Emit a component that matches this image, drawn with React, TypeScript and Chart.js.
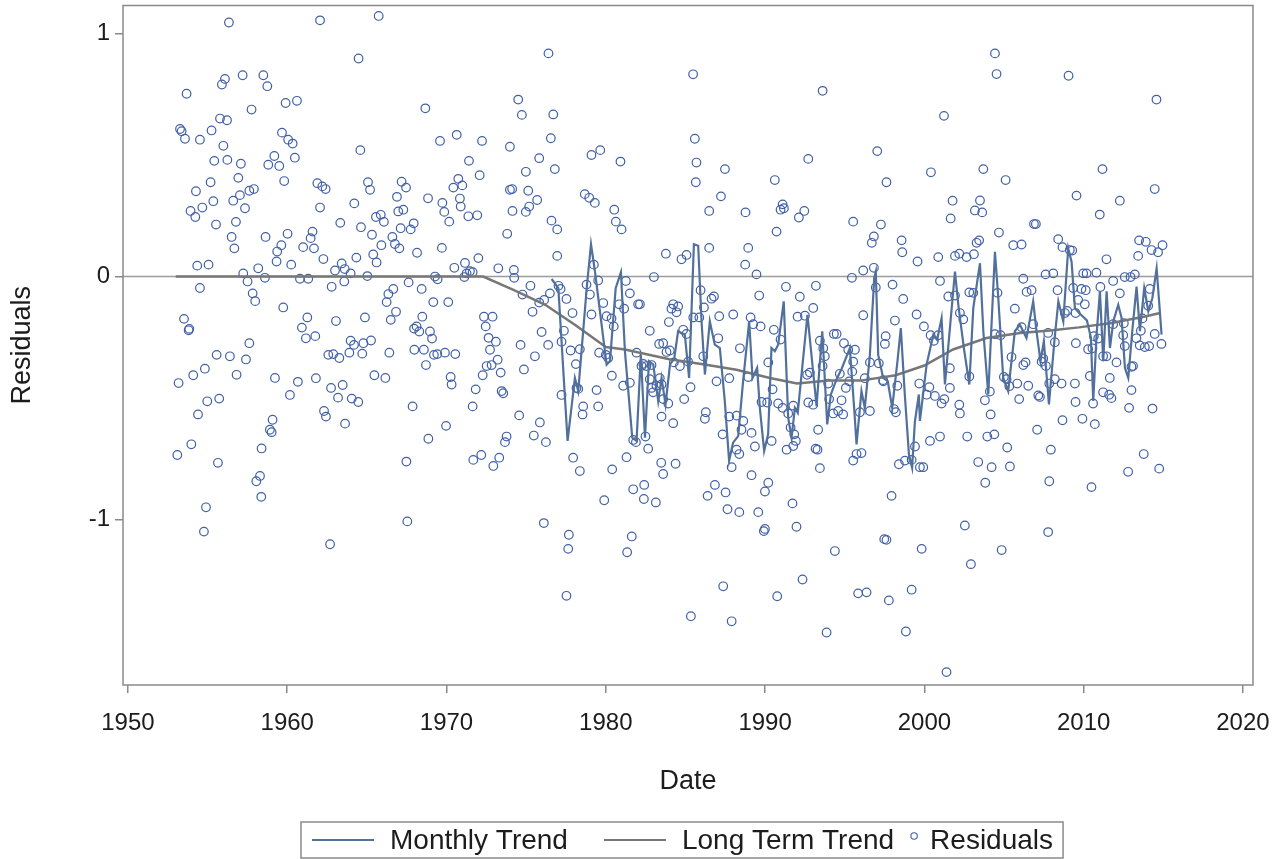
import React, { useEffect, useRef } from 'react';
import { Chart, registerables } from 'chart.js';

Chart.register(...registerables);

const xTicks = [1950, 1960, 1970, 1980, 1990, 2000, 2010, 2020];
const yTicks = [-1, 0, 1];
const legendLabels = ['Monthly Trend', 'Long Term Trend', 'Residuals'];
const xTitle = 'Date';
const yTitle = 'Residuals';

// [year, residual]
const residuals1950s: [number, number][] = [
  [1956.34, 1.045], [1956.09, 0.813], [1955.9, 0.79], [1957.2, 0.828], [1958.5, 0.828], [1958.75, 0.783],
  [1953.68, 0.752], [1957.76, 0.687], [1959.9, 0.714], [1960.61, 0.723], [1955.78, 0.65], [1956.22, 0.643],
  [1953.27, 0.607], [1953.37, 0.598], [1953.58, 0.567], [1954.52, 0.563], [1955.25, 0.601], [1955.99, 0.538],
  [1955.42, 0.476], [1956.24, 0.48], [1957.09, 0.464], [1956.93, 0.406], [1958.81, 0.46], [1959.5, 0.455],
  [1959.19, 0.496], [1959.67, 0.592], [1960.06, 0.563], [1960.34, 0.547], [1960.48, 0.489], [1959.81, 0.393],
  [1954.27, 0.351], [1955.19, 0.388], [1955.36, 0.31], [1954.67, 0.284], [1953.93, 0.27], [1954.23, 0.245],
  [1955.53, 0.214], [1956.61, 0.312], [1957.03, 0.335], [1957.35, 0.281], [1957.62, 0.353], [1957.91, 0.36],
  [1956.78, 0.225], [1956.51, 0.163], [1956.68, 0.116], [1958.64, 0.163], [1960.02, 0.176], [1959.63, 0.129],
  [1959.37, 0.103], [1959.33, 0.062], [1954.35, 0.045], [1955.06, 0.049], [1961.0, 0.121], [1961.59, 0.185],
  [1961.47, 0.158], [1961.68, 0.116], [1960.25, 0.049], [1960.8, -0.009], [1961.32, -0.009], [1957.24, 0.013],
  [1957.51, -0.02], [1958.18, 0.034], [1958.6, -0.005], [1954.52, -0.047], [1957.83, -0.069], [1957.99, -0.101],
  [1959.75, -0.127], [1953.52, -0.174], [1953.81, -0.221], [1953.85, -0.215], [1961.26, -0.168], [1960.92, -0.21],
  [1961.17, -0.254], [1961.76, -0.245], [1957.62, -0.274], [1955.57, -0.322], [1956.4, -0.328], [1957.41, -0.341],
  [1954.83, -0.379], [1954.1, -0.406], [1953.18, -0.438], [1956.82, -0.404], [1959.23, -0.417], [1960.67, -0.433],
  [1961.8, -0.418], [1960.17, -0.487], [1954.98, -0.513], [1955.73, -0.502], [1954.4, -0.567], [1959.08, -0.589],
  [1958.91, -0.63], [1959.02, -0.64], [1953.1, -0.734], [1953.98, -0.69], [1958.39, -0.707], [1955.65, -0.766],
  [1958.29, -0.82], [1958.06, -0.842], [1958.37, -0.906], [1954.9, -0.949], [1954.77, -1.049],
];

const residuals1960s: [number, number][] = [
  [1962.06, 1.054], [1965.74, 1.072], [1964.48, 0.897], [1968.67, 0.692], [1964.59, 0.52], [1969.59, 0.558],
  [1970.64, 0.583], [1972.23, 0.558], [1971.41, 0.476], [1972.08, 0.417], [1961.89, 0.384], [1962.2, 0.371],
  [1962.41, 0.36], [1965.07, 0.388], [1965.2, 0.357], [1967.18, 0.39], [1967.46, 0.366], [1970.74, 0.402],
  [1970.43, 0.366], [1970.99, 0.375], [1970.84, 0.321], [1970.89, 0.288], [1962.06, 0.284], [1964.21, 0.301],
  [1966.89, 0.328], [1968.84, 0.322], [1969.74, 0.303], [1969.86, 0.266], [1971.37, 0.248], [1971.93, 0.252],
  [1963.33, 0.221], [1964.63, 0.203], [1965.57, 0.245], [1965.87, 0.254], [1966.07, 0.225], [1965.32, 0.172],
  [1966.97, 0.268], [1967.29, 0.275], [1967.12, 0.199], [1967.75, 0.194], [1967.94, 0.219], [1966.6, 0.163],
  [1966.76, 0.134], [1967.04, 0.116], [1965.91, 0.129], [1970.17, 0.226], [1969.71, 0.118], [1968.15, 0.098],
  [1965.4, 0.091], [1965.61, 0.058], [1964.34, 0.078], [1962.27, 0.072], [1963.42, 0.054], [1963.61, 0.031],
  [1963.0, 0.025], [1963.98, 0.013], [1965.03, 0.002], [1962.79, -0.042], [1963.58, -0.02], [1967.62, -0.024],
  [1968.44, -0.051], [1969.28, 0.0], [1969.44, -0.011], [1970.49, 0.036], [1971.16, 0.056], [1971.47, 0.022],
  [1971.26, 0.013], [1971.64, 0.018], [1971.12, -0.002], [1972.0, 0.076], [1973.25, 0.034], [1966.35, -0.072],
  [1966.66, -0.051], [1966.24, -0.105], [1966.83, -0.145], [1966.5, -0.178], [1969.17, -0.105], [1970.11, -0.105],
  [1964.88, -0.168], [1963.06, -0.183], [1968.48, -0.165], [1968.12, -0.205], [1968.29, -0.226], [1967.96, -0.214],
  [1968.96, -0.226], [1969.09, -0.255], [1963.98, -0.264], [1964.19, -0.281], [1963.9, -0.313], [1964.78, -0.274],
  [1965.26, -0.263], [1962.58, -0.322], [1962.89, -0.319], [1963.27, -0.335], [1964.71, -0.317], [1966.41, -0.313],
  [1967.98, -0.301], [1968.58, -0.301], [1969.21, -0.322], [1969.42, -0.319], [1969.9, -0.313], [1970.55, -0.319],
  [1968.71, -0.364], [1972.35, -0.165], [1972.89, -0.165], [1972.46, -0.205], [1972.64, -0.252], [1973.1, -0.268],
  [1972.73, -0.301], [1972.52, -0.368], [1972.83, -0.364], [1973.21, -0.342], [1973.4, -0.395], [1972.27, -0.406],
  [1965.47, -0.406], [1966.16, -0.417], [1962.75, -0.458], [1963.48, -0.446], [1963.19, -0.498], [1964.05, -0.502],
  [1964.46, -0.516], [1970.26, -0.413], [1970.32, -0.444], [1971.83, -0.464], [1973.46, -0.471], [1973.56, -0.48],
  [1967.87, -0.534], [1971.64, -0.534], [1962.31, -0.553], [1962.43, -0.576], [1963.63, -0.605], [1969.97, -0.614],
  [1968.86, -0.667], [1973.77, -0.658], [1973.67, -0.681], [1971.68, -0.754], [1972.18, -0.734], [1972.94, -0.779],
  [1973.31, -0.745], [1967.48, -0.761], [1967.54, -1.007], [1962.69, -1.101],
];

const residuals1970s: [number, number][] = [
  [1976.4, 0.918], [1985.48, 0.832], [1974.5, 0.728], [1974.73, 0.665], [1976.7, 0.667], [1976.55, 0.569],
  [1973.98, 0.534], [1985.59, 0.567], [1985.69, 0.469], [1985.65, 0.388], [1975.82, 0.487], [1976.8, 0.442],
  [1974.98, 0.431], [1979.1, 0.5], [1979.65, 0.52], [1980.92, 0.473], [1973.98, 0.357], [1974.12, 0.36],
  [1975.13, 0.353], [1975.69, 0.315], [1975.19, 0.288], [1974.98, 0.266], [1974.14, 0.27], [1973.81, 0.176],
  [1976.59, 0.23], [1976.95, 0.194], [1978.68, 0.339], [1978.96, 0.324], [1979.31, 0.303], [1980.53, 0.275],
  [1980.63, 0.226], [1980.99, 0.194], [1976.95, 0.085], [1983.77, 0.094], [1984.75, 0.071], [1985.07, 0.089],
  [1974.23, 0.027], [1974.25, -0.005], [1975.27, -0.038], [1974.77, -0.074], [1975.82, -0.107], [1976.13, -0.096],
  [1976.49, -0.069], [1977.03, -0.038], [1977.16, -0.051], [1975.4, -0.145], [1975.97, -0.228], [1976.38, -0.281],
  [1975.55, -0.328], [1974.65, -0.281], [1974.86, -0.382], [1977.53, -0.092], [1977.91, -0.15], [1977.37, -0.223],
  [1977.22, -0.268], [1977.79, -0.304], [1978.12, -0.36], [1978.37, -0.299], [1978.79, -0.033], [1979.0, -0.074],
  [1979.25, 0.049], [1979.52, -0.016], [1979.1, -0.156], [1979.84, -0.109], [1980.05, -0.163], [1980.36, -0.172],
  [1980.5, -0.205], [1980.84, -0.114], [1981.15, -0.132], [1981.51, -0.069], [1981.26, -0.018], [1982.03, -0.114],
  [1982.14, -0.114], [1979.58, -0.313], [1980.0, -0.322], [1980.15, -0.335], [1978.16, -0.458], [1978.27, -0.462],
  [1979.42, -0.467], [1979.52, -0.534], [1978.58, -0.534], [1978.54, -0.567], [1977.22, -0.487], [1980.38, -0.408],
  [1981.09, -0.449], [1981.51, -0.437], [1981.93, -0.313], [1982.24, -0.368], [1982.35, -0.359], [1982.55, -0.368],
  [1982.87, -0.364], [1982.76, -0.223], [1983.02, -0.002], [1983.35, -0.277], [1983.6, -0.274], [1983.81, -0.31],
  [1983.96, -0.187], [1984.12, -0.132], [1984.23, -0.114], [1984.54, -0.123], [1984.44, -0.147], [1984.02, -0.304],
  [1984.27, -0.353], [1984.65, -0.368], [1984.86, -0.219], [1985.07, -0.236], [1985.17, -0.35], [1985.32, -0.455],
  [1984.92, -0.504], [1983.39, -0.418], [1983.18, -0.449], [1983.5, -0.444], [1983.6, -0.504], [1983.92, -0.522],
  [1984.23, -0.603], [1982.76, -0.422], [1982.87, -0.458], [1982.97, -0.476], [1983.5, -0.576], [1974.56, -0.571],
  [1975.48, -0.654], [1975.86, -0.6], [1976.24, -0.681], [1977.95, -0.745], [1978.37, -0.8], [1980.4, -0.793],
  [1981.3, -0.743], [1981.72, -0.672], [1981.89, -0.681], [1982.49, -0.658], [1982.66, -0.708], [1983.48, -0.766],
  [1983.6, -0.812], [1984.38, -0.77], [1979.9, -0.92], [1981.72, -0.875], [1982.41, -0.857], [1982.39, -0.915],
  [1983.14, -0.929], [1976.11, -1.014], [1977.68, -1.062], [1977.64, -1.12], [1981.63, -1.069], [1981.34, -1.134],
  [1977.53, -1.313], [1985.34, -1.397],
];

const residuals1980s: [number, number][] = [
  [1993.61, 0.764], [1992.71, 0.484], [1997.04, 0.516], [1987.48, 0.442], [1987.23, 0.33], [1986.49, 0.27],
  [1990.61, 0.397], [1988.77, 0.264], [1991.1, 0.297], [1991.18, 0.281], [1990.97, 0.275], [1992.12, 0.243],
  [1992.46, 0.27], [1990.72, 0.185], [1997.62, 0.388], [1995.53, 0.226], [1997.27, 0.214], [1996.83, 0.165],
  [1996.7, 0.139], [1986.49, 0.118], [1988.94, 0.118], [1988.75, 0.049], [1989.46, 0.009], [1996.16, 0.025],
  [1995.45, -0.005], [1996.83, 0.036], [1996.95, -0.045], [1991.31, -0.042], [1993.19, -0.038], [1992.18, -0.083],
  [1985.95, -0.056], [1986.64, -0.091], [1986.79, -0.082], [1986.16, -0.127], [1989.63, -0.078], [1993.02, -0.129],
  [1985.49, -0.168], [1985.87, -0.168], [1987.12, -0.163], [1988.0, -0.156], [1989.09, -0.168], [1989.25, -0.196],
  [1989.72, -0.205], [1990.55, -0.219], [1990.97, -0.259], [1992.5, -0.161], [1992.04, -0.165], [1993.44, -0.264],
  [1994.32, -0.236], [1994.49, -0.236], [1993.65, -0.295], [1994.95, -0.274], [1995.22, -0.301], [1995.64, -0.301],
  [1996.16, -0.159], [1997.52, -0.277], [1986.12, -0.328], [1987.06, -0.254], [1986.95, -0.431], [1987.75, -0.418],
  [1988.42, -0.295], [1988.94, -0.413], [1990.2, -0.353], [1990.47, -0.464], [1992.64, -0.404], [1992.81, -0.395],
  [1993.02, -0.527], [1992.71, -0.518], [1993.61, -0.368], [1993.75, -0.328], [1993.96, -0.44], [1994.02, -0.504],
  [1994.28, -0.563], [1994.59, -0.553], [1994.9, -0.567], [1994.8, -0.509], [1994.69, -0.4], [1995.28, -0.431],
  [1995.07, -0.458], [1995.53, -0.35], [1995.47, -0.391], [1996.26, -0.418], [1997.41, -0.426], [1996.58, -0.353],
  [1997.14, -0.357], [1995.95, -0.558], [1996.58, -0.553], [1989.78, -0.516], [1990.13, -0.518], [1990.82, -0.522],
  [1991.1, -0.54], [1991.45, -0.563], [1991.77, -0.531], [1991.6, -0.621], [1991.83, -0.649], [1991.93, -0.676],
  [1993.33, -0.63], [1986.28, -0.558], [1986.22, -0.585], [1987.75, -0.576], [1988.21, -0.572], [1988.63, -0.594],
  [1988.52, -0.63], [1989.15, -0.643], [1987.33, -0.649], [1989.36, -0.699], [1990.41, -0.676], [1987.9, -0.784],
  [1988.21, -0.712], [1988.38, -0.73], [1991.35, -0.712], [1991.77, -0.697], [1993.17, -0.708], [1993.29, -0.712],
  [1993.44, -0.788], [1989.15, -0.817], [1990.2, -0.848], [1989.99, -0.884], [1986.85, -0.857], [1986.39, -0.902],
  [1987.52, -0.888], [1987.64, -0.957], [1988.38, -0.969], [1989.57, -0.969], [1989.99, -1.038], [1989.92, -1.047],
  [1991.72, -0.933], [1991.97, -1.029], [1995.53, -0.757], [1995.74, -0.73], [1996.05, -0.726], [1997.48, -1.08],
  [1997.62, -1.083], [1994.38, -1.129], [1987.37, -1.274], [1990.76, -1.315], [1992.35, -1.246], [1995.84, -1.303],
  [1996.37, -1.299], [1987.9, -1.418], [1993.86, -1.464], [1997.77, -1.332],
];

const residuals1990s: [number, number][] = [
  [2004.43, 0.918], [2004.53, 0.833], [2009.05, 0.826], [2001.23, 0.661], [2000.41, 0.429], [2003.7, 0.442],
  [2005.1, 0.397], [2009.55, 0.333], [2001.77, 0.312], [2001.65, 0.239], [2003.49, 0.313], [2003.17, 0.272],
  [2003.63, 0.264], [2004.68, 0.181], [2006.88, 0.216], [2007.0, 0.216], [1998.57, 0.149], [1998.61, 0.1],
  [1999.57, 0.062], [2000.87, 0.08], [2001.92, 0.085], [2002.19, 0.094], [2002.65, 0.08], [2003.11, 0.092],
  [2003.28, 0.139], [2003.44, 0.149], [2005.58, 0.129], [2006.1, 0.132], [2008.4, 0.154], [2008.67, 0.121],
  [2009.13, 0.109], [2009.28, 0.107], [1998.0, -0.033], [1998.67, -0.092], [2000.98, -0.018], [2001.5, -0.082],
  [2001.92, -0.078], [2002.82, -0.065], [2003.07, -0.067], [2004.59, -0.067], [2006.21, -0.009], [2006.42, -0.063],
  [2006.73, -0.056], [2007.61, 0.009], [2008.09, 0.013], [2008.36, -0.056], [1999.51, -0.156], [1999.97, -0.205],
  [1998.15, -0.181], [1997.57, -0.245], [2002.23, -0.15], [2002.44, -0.176], [2000.39, -0.241], [2000.6, -0.264],
  [2000.87, -0.241], [2005.68, -0.132], [2006.1, -0.208], [2006.83, -0.196], [2008.82, -0.15], [2008.97, -0.141],
  [2008.19, -0.27], [2007.77, -0.232], [2009.49, -0.15], [1997.42, -0.431], [1998.3, -0.449], [1998.09, -0.545],
  [1998.21, -0.558], [1999.68, -0.44], [2000.14, -0.486], [2000.31, -0.455], [2000.66, -0.491], [2001.08, -0.522],
  [2001.25, -0.504], [2001.6, -0.377], [2001.6, -0.458], [2002.19, -0.527], [2002.23, -0.563], [2002.82, -0.411],
  [2003.8, -0.509], [2004.11, -0.473], [2004.16, -0.567], [2004.43, -0.237], [2004.78, -0.241], [2004.99, -0.413],
  [2005.16, -0.422], [2005.33, -0.451], [2005.47, -0.331], [2005.83, -0.44], [2005.95, -0.504], [2006.21, -0.364],
  [2006.35, -0.353], [2006.52, -0.449], [2007.15, -0.489], [2007.25, -0.495], [2007.36, -0.35], [2007.46, -0.337],
  [2007.63, -0.368], [2007.84, -0.44], [2008.19, -0.422], [2008.61, -0.44], [2009.45, -0.44], [2009.49, -0.516],
  [2008.67, -0.591], [1998.4, -0.772], [1998.78, -0.757], [1999.2, -0.754], [1999.41, -0.699], [1999.72, -0.784],
  [1999.93, -0.784], [2000.35, -0.676], [2000.98, -0.658], [2002.69, -0.658], [2003.95, -0.658], [2004.39, -0.649],
  [2003.38, -0.763], [2004.22, -0.784], [2003.82, -0.848], [2005.2, -0.703], [2005.37, -0.781], [2007.94, -0.712],
  [2007.84, -0.842], [2007.08, -0.63], [1997.94, -0.902], [1999.83, -1.12], [2002.54, -1.024], [2002.92, -1.183],
  [2004.85, -1.125], [2007.77, -1.051], [1999.2, -1.288], [1998.84, -1.46], [2001.39, -1.627],
];

const residuals2010s: [number, number][] = [
  [2014.57, 0.728], [2011.18, 0.442], [2012.27, 0.312], [2014.46, 0.36], [2011.01, 0.255], [2013.48, 0.149],
  [2013.9, 0.143], [2014.26, 0.109], [2014.67, 0.1], [2014.95, 0.129], [2013.42, 0.085], [2011.43, 0.071],
  [2009.97, 0.013], [2010.18, 0.013], [2010.8, 0.016], [2011.85, -0.018], [2012.58, -0.002], [2013.21, 0.009],
  [2012.94, -0.002], [2009.34, -0.047], [2009.86, -0.051], [2010.13, -0.056], [2011.05, -0.043], [2014.15, -0.051],
  [2009.65, -0.096], [2010.07, -0.114], [2012.27, -0.069], [2014.05, -0.12], [2011.85, -0.196], [2012.52, -0.192],
  [2013.69, -0.172], [2013.59, -0.223], [2010.64, -0.245], [2010.91, -0.255], [2012.48, -0.241], [2012.58, -0.286],
  [2010.28, -0.299], [2010.55, -0.295], [2013.31, -0.254], [2013.52, -0.283], [2013.84, -0.29], [2014.11, -0.286],
  [2014.46, -0.236], [2014.88, -0.277], [2009.51, -0.274], [2011.22, -0.328], [2011.43, -0.328], [2012.06, -0.353],
  [2013.0, -0.371], [2013.1, -0.368], [2010.39, -0.409], [2011.64, -0.417], [2010.59, -0.522], [2011.22, -0.476],
  [2011.6, -0.486], [2011.74, -0.5], [2013.0, -0.467], [2012.85, -0.54], [2014.32, -0.543], [2009.92, -0.585],
  [2010.7, -0.607], [2013.77, -0.73], [2012.79, -0.803], [2014.74, -0.79], [2010.49, -0.866],
];

const monthlyTrend: [number, number][] = [
  [1976.6, -0.01], [1977.02, -0.048], [1977.6, -0.676], [1978.06, -0.417], [1978.27, -0.471], [1978.8, -0.048],
  [1979.07, 0.133], [1979.32, 0.02], [1980.05, -0.362], [1980.26, -0.348], [1980.62, -0.048], [1980.95, 0.018],
  [1981.2, -0.307], [1981.66, -0.663], [1981.93, -0.676], [1982.2, -0.321], [1982.46, -0.663], [1982.71, -0.348],
  [1982.98, -0.362], [1983.29, -0.512], [1983.5, -0.417], [1983.75, -0.526], [1984.03, -0.362], [1984.3, -0.335],
  [1984.54, -0.225], [1984.96, -0.239], [1985.23, -0.417], [1985.53, 0.133], [1985.8, 0.127], [1986.01, -0.184],
  [1986.22, -0.403], [1986.53, -0.184], [1986.84, -0.28], [1987.16, -0.294], [1987.47, -0.512], [1987.74, -0.758],
  [1987.99, -0.683], [1988.31, -0.656], [1988.62, -0.43], [1989.0, -0.184], [1989.21, -0.417], [1989.5, -0.376],
  [1989.67, -0.54], [1989.94, -0.717], [1990.19, -0.649], [1990.4, -0.294], [1990.61, -0.307], [1990.82, -0.28],
  [1991.17, -0.102], [1991.45, -0.58], [1991.66, -0.663], [1991.87, -0.54], [1992.05, -0.56], [1992.66, -0.157],
  [1993.23, -0.533], [1993.59, -0.225], [1993.9, -0.608], [1994.13, -0.485], [1994.5, -0.42], [1994.8, -0.38],
  [1995.32, -0.294], [1995.59, -0.54], [1995.74, -0.69], [1996.05, -0.471], [1996.26, -0.54], [1996.58, -0.321],
  [1996.85, -0.007], [1996.95, 0.02], [1997.1, -0.321], [1997.41, -0.417], [1997.7, -0.43], [1997.98, -0.54],
  [1998.31, -0.348], [1998.52, -0.212], [1998.77, -0.485], [1999.03, -0.731], [1999.23, -0.786], [1999.4, -0.6],
  [1999.65, -0.485], [1999.72, -0.594], [2000.14, -0.362], [2000.56, -0.239], [2000.8, -0.26], [2001.08, -0.171],
  [2001.29, -0.444], [2001.64, -0.184], [2001.92, 0.02], [2002.13, -0.116], [2002.48, -0.294], [2002.82, -0.444],
  [2003.07, -0.13], [2003.49, 0.055], [2003.7, -0.225], [2004.01, -0.485], [2004.43, 0.102], [2004.64, -0.089],
  [2004.95, -0.417], [2005.26, -0.471], [2005.68, -0.225], [2006.0, -0.198], [2006.41, -0.253], [2006.83, -0.102],
  [2007.04, -0.225], [2007.29, -0.348], [2007.5, -0.266], [2007.82, -0.526], [2008.16, -0.266], [2008.41, -0.102],
  [2008.72, -0.184], [2009.03, 0.116], [2009.24, 0.061], [2009.45, -0.13], [2009.8, -0.155], [2010.2, -0.18],
  [2010.45, -0.25], [2010.6, -0.512], [2010.81, -0.239], [2011.02, -0.061], [2011.23, -0.348], [2011.44, -0.061],
  [2011.65, -0.294], [2011.86, -0.184], [2012.17, -0.116], [2012.38, -0.17], [2012.59, -0.376], [2012.8, -0.417],
  [2013.05, -0.225], [2013.32, -0.041], [2013.53, -0.225], [2013.8, -0.048], [2014.06, -0.143], [2014.31, -0.089],
  [2014.58, 0.034], [2014.89, -0.239],
];

const longTermTrend: [number, number][] = [
  [1953.0, 0], [1972.3, 0], [1974.2, -0.055], [1976.2, -0.116], [1978.1, -0.2], [1980.0, -0.29], [1981.2, -0.3],
  [1984.0, -0.34], [1986.0, -0.36], [1988.2, -0.383], [1990.3, -0.417], [1992.0, -0.44], [1994.0, -0.428],
  [1996.0, -0.428], [1998.2, -0.406], [2000.0, -0.366], [2001.8, -0.3], [2003.9, -0.253], [2006.0, -0.232],
  [2007.9, -0.222], [2009.7, -0.209], [2011.75, -0.191], [2013.85, -0.164], [2014.8, -0.15],
];

const FONT = "'Liberation Sans', Arial, Helvetica, sans-serif";
const TEXT = '#1c1c1c';
const FRAME = '#8a8a8a';
const ZERO = '#9c9c9c';
const MONTHLY = '#52709c';
const LONG = '#777777';
const POINT = '#4060a8';

const toXY = (arr: [number, number][]) => arr.map(([x, y]) => ({ x, y }));

export default function App() {
  const ref = useRef<HTMLCanvasElement>(null);

  useEffect(() => {
    const canvas = ref.current;
    if (!canvas) return;

    const decor = {
      id: 'decor',
      beforeDatasetsDraw(chart: any) {
        const { ctx, chartArea: a, scales } = chart;
        const y0 = scales.y.getPixelForValue(0);
        ctx.save();
        ctx.strokeStyle = ZERO;
        ctx.lineWidth = 1.5;
        ctx.beginPath();
        ctx.moveTo(a.left, y0);
        ctx.lineTo(a.right, y0);
        ctx.stroke();
        ctx.restore();
      },
      afterDraw(chart: any) {
        const { ctx, chartArea: a } = chart;
        ctx.save();
        ctx.strokeStyle = FRAME;
        ctx.lineWidth = 1.5;
        ctx.strokeRect(a.left, a.top, a.right - a.left, a.bottom - a.top);

        // legend
        ctx.font = `28px ${FONT}`;
        const w = legendLabels.map((t) => ctx.measureText(t).width);
        const pad = 11, lineLen = 62, gapT = 16, gapItem = 36, gapItem2 = 16, circ = 8, gapC = 12, padR = 10;
        const total = pad + lineLen + gapT + w[0] + gapItem + lineLen + gapT + w[1] + gapItem2 + circ + gapC + w[2] + padR;
        const cx = (a.left + a.right) / 2 - 5.5;
        const bx = Math.round(cx - total / 2);
        const by = 822, bh = 36;
        const my = by + bh / 2;
        ctx.strokeStyle = FRAME;
        ctx.lineWidth = 1.5;
        ctx.strokeRect(bx, by, total, bh);
        ctx.fillStyle = TEXT;
        ctx.textBaseline = 'middle';
        ctx.textAlign = 'left';
        let x = bx + pad;
        ctx.strokeStyle = MONTHLY;
        ctx.lineWidth = 2;
        ctx.beginPath(); ctx.moveTo(x, my); ctx.lineTo(x + lineLen, my); ctx.stroke();
        x += lineLen + gapT;
        ctx.fillText(legendLabels[0], x, my + 1);
        x += w[0] + gapItem;
        ctx.strokeStyle = LONG;
        ctx.beginPath(); ctx.moveTo(x, my); ctx.lineTo(x + lineLen, my); ctx.stroke();
        x += lineLen + gapT;
        ctx.fillText(legendLabels[1], x, my + 1);
        x += w[1] + gapItem2;
        ctx.strokeStyle = POINT;
        ctx.lineWidth = 1.1;
        ctx.beginPath(); ctx.arc(x + circ / 2, my - 4, 3.2, 0, Math.PI * 2); ctx.stroke();
        x += circ + gapC;
        ctx.fillText(legendLabels[2], x, my + 1);
        ctx.restore();
      },
    };

    const residuals = [
      ...residuals1950s, ...residuals1960s, ...residuals1970s,
      ...residuals1980s, ...residuals1990s, ...residuals2010s,
    ];

    const chart = new Chart(canvas, {
      type: 'scatter',
      data: {
        datasets: [
          {
            label: legendLabels[0],
            data: toXY(monthlyTrend),
            showLine: true,
            borderColor: MONTHLY,
            borderWidth: 2.2,
            pointRadius: 0,
            tension: 0,
            order: 1,
          },
          {
            label: legendLabels[1],
            data: toXY(longTermTrend),
            showLine: true,
            borderColor: LONG,
            borderWidth: 2.5,
            pointRadius: 0,
            tension: 0,
            order: 2,
          },
          {
            label: legendLabels[2],
            data: toXY(residuals),
            showLine: false,
            pointStyle: 'circle',
            pointRadius: 4.3,
            pointBorderWidth: 1.2,
            borderColor: POINT,
            backgroundColor: 'rgba(0,0,0,0)',
            order: 3,
          },
        ],
      },
      options: {
        responsive: false,
        animation: false,
        devicePixelRatio: 1,
        layout: { padding: { left: 0, right: 22, top: 3, bottom: 44 } },
        plugins: { legend: { display: false }, tooltip: { enabled: false } },
        scales: {
          x: {
            type: 'linear',
            min: 1949.69,
            max: 2020.63,
            afterBuildTicks: (s: any) => { s.ticks = xTicks.map((v) => ({ value: v })); },
            afterFit: (s: any) => { s.height = 130; s.paddingLeft = 0; s.paddingRight = 0; },
            ticks: {
              callback: (v: any) => String(v),
              font: { family: FONT, size: 24 },
              color: TEXT,
              padding: 16,
              maxRotation: 0,
              autoSkip: false,
            },
            grid: { drawOnChartArea: false, drawTicks: true, tickLength: 8, color: FRAME, lineWidth: 1.5 },
            border: { display: false },
            title: { display: true, text: xTitle, font: { family: FONT, size: 27 }, color: TEXT, padding: { top: 0, bottom: 17 } },
          },
          y: {
            type: 'linear',
            min: -1.68,
            max: 1.115,
            afterBuildTicks: (s: any) => { s.ticks = yTicks.map((v) => ({ value: v })); },
            afterFit: (s: any) => { s.width = 123; s.paddingTop = 0; s.paddingBottom = 0; },
            ticks: {
              callback: (v: any) => String(v),
              font: { family: FONT, size: 24 },
              color: TEXT,
              padding: 5,
              autoSkip: false,
            },
            grid: { drawOnChartArea: false, drawTicks: true, tickLength: 8, color: FRAME, lineWidth: 1.5 },
            border: { display: false },
            title: { display: true, text: yTitle, font: { family: FONT, size: 27 }, color: TEXT, padding: { top: 6, bottom: 0 } },
          },
        },
      },
      plugins: [decor],
    } as any);

    return () => chart.destroy();
  }, []);

  return (
    <div style={{ position: 'absolute', left: 0, top: 0, width: 1275, height: 859, background: '#fff' }}>
      <canvas ref={ref} width={1275} height={859} style={{ display: 'block', width: 1275, height: 859 }} />
    </div>
  );
}
